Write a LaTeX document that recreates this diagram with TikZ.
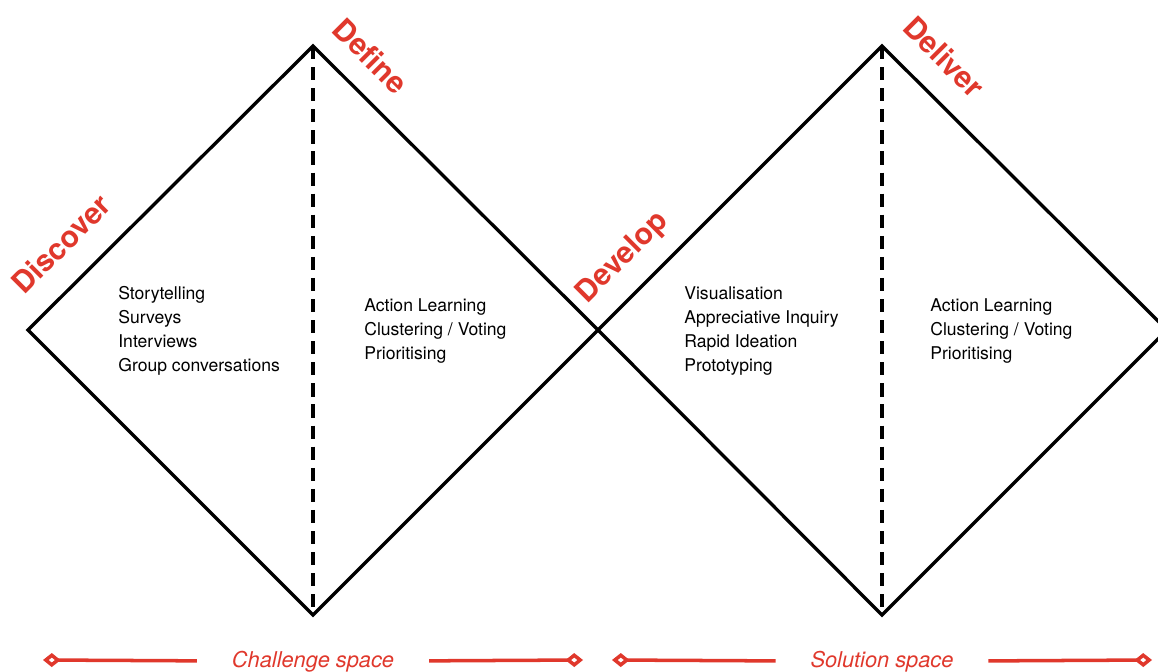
\documentclass[tikz,border=0pt]{standalone}
\usepackage{fontspec}
\setmainfont{TeX Gyre Heros}
\usetikzlibrary{arrows.meta}
\definecolor{ddred}{HTML}{E0382C}

\begin{document}
\begin{tikzpicture}[
    phasenode/.style={font=\fontsize{17}{20}\selectfont\bfseries, text=ddred, inner sep=0pt},
    methodnode/.style={font=\fontsize{10}{13.6}\selectfont, align=left, anchor=west, inner sep=0pt},
    spacenode/.style={font=\fontsize{12.4}{15}\selectfont\itshape, text=ddred, inner sep=0pt, outer xsep=0.7cm},
    diamondline/.style={line width=1.9pt},
    midline/.style={line width=1.9pt, dash pattern=on 7.5pt off 4.5pt},
    spaceline/.style={ddred, line width=2pt, -{Diamond[open, length=10pt, width=8pt]}}
]
\useasboundingbox (0,0) rectangle (23.16,13.42);
\clip (0,0) rectangle (23.16,13.42);

% Corners of the two diamonds
\coordinate (start) at (0.56,6.82);
\coordinate (top1) at (6.26,12.5);
\coordinate (bot1) at (6.26,1.12);
\coordinate (mid) at (11.96,6.82);
\coordinate (top2) at (17.64,12.5);
\coordinate (bot2) at (17.64,1.12);
\coordinate (end) at (23.34,6.82);

% Diamonds
\draw[diamondline] (start) -- (top1) -- (mid) -- (bot1) -- cycle;
\draw[diamondline] (mid) -- (top2) -- (end) -- (bot2) -- cycle;

% Dashed split inside each diamond
\draw[midline] (top1) -- (bot1);
\draw[midline] (top2) -- (bot2);

% Phase names along the edges
\node[phasenode, rotate=45] (discover) at (1.22,8.54) {Discover};
\node[phasenode, rotate=-45] (define) at (7.42,12.30) {Define};
\node[phasenode, rotate=45] (develop) at (12.46,8.26) {Develop};
\node[phasenode, rotate=-45] (deliver) at (18.88,12.28) {Deliver};

% Methods per phase
\node[methodnode] (discoverlist) at (2.36,6.80) {Storytelling\\Surveys\\Interviews\\Group conversations};
\node[methodnode] (definelist) at (7.28,6.80) {Action Learning\\Clustering / Voting\\Prioritising};
\node[methodnode] (developlist) at (13.68,6.80) {Visualisation\\Appreciative Inquiry\\Rapid Ideation\\Prototyping};
\node[methodnode] (deliverlist) at (18.60,6.80) {Action Learning\\Clustering / Voting\\Prioritising};

% Problem / solution spans
\node[spacenode] (challenge) at (6.26,0.19) {Challenge space};
\coordinate (challengeL) at (0.86,0.22);
\coordinate (challengeR) at (11.66,0.22);
\draw[spaceline] (challenge) -- (challengeL);
\draw[spaceline] (challenge) -- (challengeR);

\node[spacenode] (solution) at (17.64,0.19) {Solution space};
\coordinate (solutionL) at (12.24,0.22);
\coordinate (solutionR) at (23.04,0.22);
\draw[spaceline] (solution) -- (solutionL);
\draw[spaceline] (solution) -- (solutionR);

\end{tikzpicture}
\end{document}
